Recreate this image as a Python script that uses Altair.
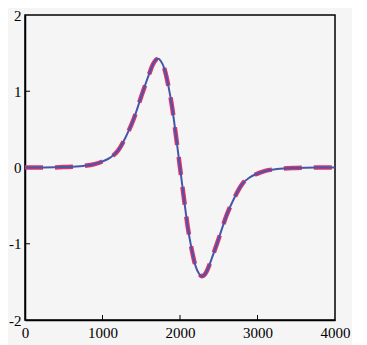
import altair as alt
import pandas as pd

# curve
xs = [0, 250, 500, 750, 900, 1000, 1100, 1200, 1300, 1400, 1500, 1600, 1650, 1700, 1720,
      1750, 1800, 1850, 1900, 1950, 2000, 2050, 2100, 2150, 2200, 2250, 2280, 2300,
      2350, 2400, 2500, 2600, 2700, 2800, 2900, 3000, 3100, 3250, 3500, 3750, 4000]
ys = [0.0, 0.0, 0.005, 0.02, 0.045, 0.08, 0.13, 0.22, 0.40, 0.63, 0.93, 1.22, 1.35, 1.42, 1.425,
      1.40, 1.29, 1.07, 0.78, 0.40, 0.0, -0.40, -0.78, -1.07, -1.29, -1.40, -1.425, -1.42,
      -1.35, -1.22, -0.93, -0.63, -0.40, -0.22, -0.13, -0.08, -0.045, -0.02, -0.005, 0.0, 0.0]

x_ticks = [0, 1000, 2000, 3000, 4000]
y_ticks = [-2, -1, 0, 1, 2]
x_inner_ticks = [1000, 2000, 3000]
y_inner_ticks = [-1, 0, 1]

df = pd.DataFrame({"x": xs, "y": ys})

xscale = alt.Scale(domain=[0, 4000], nice=False, zero=False)
yscale = alt.Scale(domain=[-2, 2], nice=False, zero=False)

lab = "datum.value < 0 ? '-' + abs(datum.value) : '' + datum.value"
FONT = "Liberation Serif"

xaxis = alt.Axis(values=x_ticks, title=None, grid=False, ticks=False, domain=True,
                 domainColor="black", domainWidth=1.5,
                 labelColor="black", labelPadding=5, labelFlush=False,
                 labelOverlap=False, labelBound=False, labelExpr=lab)
yaxis = alt.Axis(values=y_ticks, title=None, grid=False, ticks=False, domain=True,
                 domainColor="black", domainWidth=1.5,
                 labelColor="black", labelPadding=4, labelFlush=False,
                 labelOverlap=False, labelBound=False, labelExpr=lab)

red = alt.Chart(df).mark_line(color="#de3370", strokeWidth=4.5, strokeDash=[18, 12],
                              interpolate="monotone", clip=True).encode(
    x=alt.X("x:Q", scale=xscale, axis=xaxis),
    y=alt.Y("y:Q", scale=yscale, axis=yaxis),
)
blue = alt.Chart(df).mark_line(color="#4856a6", strokeWidth=2,
                               interpolate="monotone", clip=True).encode(
    x=alt.X("x:Q", scale=xscale),
    y=alt.Y("y:Q", scale=yscale),
)

xt = pd.DataFrame({"x": x_inner_ticks, "y0": [-2] * 3, "y1": [-1.935] * 3})
yt = pd.DataFrame({"y": y_inner_ticks, "x0": [0] * 3, "x1": [65] * 3})

xtick = alt.Chart(xt).mark_rule(color="black", strokeWidth=1).encode(
    x=alt.X("x:Q", scale=xscale), y=alt.Y("y0:Q", scale=yscale), y2="y1:Q")
ytick = alt.Chart(yt).mark_rule(color="black", strokeWidth=1).encode(
    y=alt.Y("y:Q", scale=yscale), x=alt.X("x0:Q", scale=xscale), x2="x1:Q")

chart = alt.layer(xtick, ytick, red, blue).properties(
    width=310, height=305,
    autosize=alt.AutoSizeParams(type="none"),
    padding={"left": 17, "top": 7, "right": 17, "bottom": 25},
    background="#f5f5f5",
).configure_view(fill="#f5f5f5", stroke="black", strokeWidth=1.5
).configure_axis(labelFont=FONT, labelFontSize=15)

chart.save("out.html", embed_options={"renderer": "svg", "actions": False})
